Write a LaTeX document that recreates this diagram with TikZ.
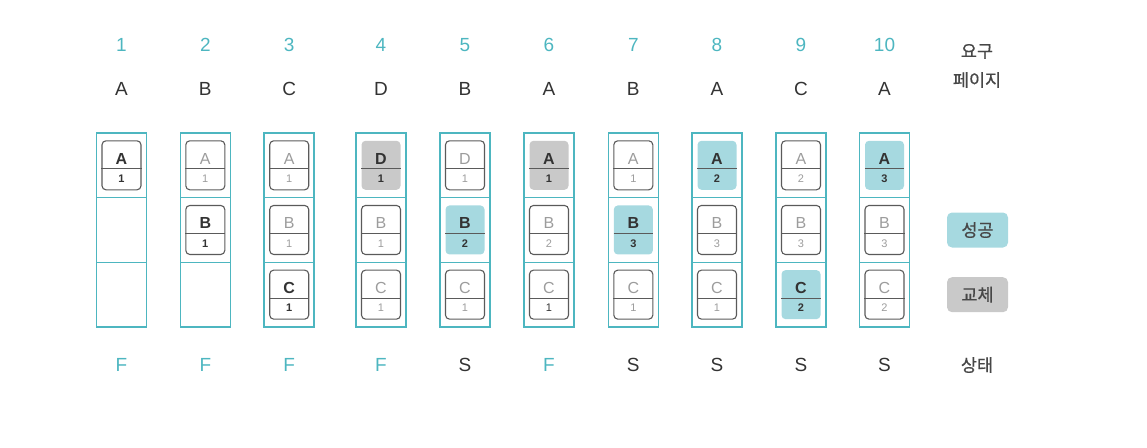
\documentclass[tikz,border=0pt]{standalone}
\usepackage{fontspec}
\setmainfont{Liberation Sans}
\newfontfamily\kr[FakeBold=0.6]{Noto Sans CJK KR}
\usetikzlibrary{positioning}
\usepackage{xcolor}

\definecolor{tealline}{HTML}{4DB6C0}
\definecolor{hitfill}{HTML}{A6D9E0}
\definecolor{swapfill}{HTML}{C9C9C9}
\definecolor{ink}{HTML}{333333}
\definecolor{faded}{HTML}{9C9C9C}
\definecolor{boxgray}{HTML}{5A5A5A}

% one page frame: name, cell, letter, count, state
\newcommand{\pg}[5]{%
    \node [pgbox,#5] (#1) at (#2) {};
    \draw [pgsplit] ([yshift=-3.5pt]#1.west) -- ([yshift=-3.5pt]#1.east);
    \node [pgletter,#5 letter] (#1l) at ([yshift=1.2pt]#1.center) {#3};
    \node [pgcount,#5 count] (#1n) at ([yshift=-17.2pt]#1.center) {#4};
}

\begin{document}
\begin{tikzpicture}[x=1pt,y=-1pt,
        cell/.style={draw=tealline,line width=1.5pt,minimum width=50pt,minimum height=64.67pt,inner sep=0,outer sep=0},
        pgbox/.style={rectangle,rounded corners=4pt,minimum width=39pt,minimum height=49pt,inner sep=0},
        pgsplit/.style={boxgray,line width=1pt},
        pgletter/.style={anchor=base,inner sep=0,font=\fontsize{16}{16}\selectfont},
        pgcount/.style={anchor=base,inner sep=0,font=\fontsize{11}{11}\selectfont},
        old/.style={draw=boxgray,line width=1.1pt},
        old letter/.style={text=faded},
        old count/.style={text=faded},
        mix/.style={old},
        mix letter/.style={text=faded},
        mix count/.style={text=ink},
        new/.style={draw=boxgray,line width=1.1pt},
        new letter/.style={text=ink,font=\fontsize{16}{16}\selectfont\bfseries},
        new count/.style={text=ink,font=\fontsize{11}{11}\selectfont\bfseries},
        hit/.style={fill=hitfill},
        hit letter/.style={new letter},
        hit count/.style={new count},
        swap/.style={fill=swapfill},
        swap letter/.style={new letter},
        swap count/.style={new count},
        head/.style={font=\fontsize{19}{19}\selectfont},
        side/.style={text=ink!90,font=\kr\fontsize{17.5}{17.5}\selectfont},
        legend/.style={rounded corners=5pt,minimum width=61pt,minimum height=35pt,text=ink!90,font=\kr\fontsize{17.5}{17.5}\selectfont}]
            \useasboundingbox (0,0) rectangle (1147,447);

            % frames and headers
            \foreach \i/\x/\r/\s/\c in {1/121.5/A/F/tealline,2/205.3/B/F/tealline,3/289.2/C/F/tealline,
                    4/381/D/F/tealline,5/465/B/S/ink,6/549/A/F/tealline,7/633.3/B/S/ink,
                    8/717/A/S/ink,9/801/C/S/ink,10/884.5/A/S/ink} {
                \node [cell] (top\i) at (\x,165.3) {};
                \node [cell,below=0pt of top\i] (mid\i) {};
                \node [cell,below=0pt of mid\i] (bot\i) {};
                \node [head,text=tealline] (num\i) at (\x,45) {\i};
                \node [head,text=ink] (req\i) at (\x,89) {\r};
                \node [head,text=\c] (st\i) at (\x,365) {\s};
            }

            \node [side] (reqa) at (977,51.5) {요구};
            \node [side] (reqb) at (977,80) {페이지};
            \node [side] (state) at (977,365) {상태};
            \node [legend,fill=hitfill] (lhit) at (977.5,230) {성공};
            \node [legend,fill=swapfill] (lswap) at (977.5,294.7) {교체};

            % pages
            \pg{p1a}{top1}{A}{1}{new}
            \pg{p2a}{top2}{A}{1}{old}
            \pg{p2b}{mid2}{B}{1}{new}
            \pg{p3a}{top3}{A}{1}{old}
            \pg{p3b}{mid3}{B}{1}{old}
            \pg{p3c}{bot3}{C}{1}{new}
            \pg{p4a}{top4}{D}{1}{swap}
            \pg{p4b}{mid4}{B}{1}{old}
            \pg{p4c}{bot4}{C}{1}{old}
            \pg{p5a}{top5}{D}{1}{old}
            \pg{p5b}{mid5}{B}{2}{hit}
            \pg{p5c}{bot5}{C}{1}{old}
            \pg{p6a}{top6}{A}{1}{swap}
            \pg{p6b}{mid6}{B}{2}{old}
            \pg{p6c}{bot6}{C}{1}{mix}
            \pg{p7a}{top7}{A}{1}{old}
            \pg{p7b}{mid7}{B}{3}{hit}
            \pg{p7c}{bot7}{C}{1}{old}
            \pg{p8a}{top8}{A}{2}{hit}
            \pg{p8b}{mid8}{B}{3}{old}
            \pg{p8c}{bot8}{C}{1}{old}
            \pg{p9a}{top9}{A}{2}{old}
            \pg{p9b}{mid9}{B}{3}{old}
            \pg{p9c}{bot9}{C}{2}{hit}
            \pg{p10a}{top10}{A}{3}{hit}
            \pg{p10b}{mid10}{B}{3}{old}
            \pg{p10c}{bot10}{C}{2}{old}
        \end{tikzpicture}
\end{document}
